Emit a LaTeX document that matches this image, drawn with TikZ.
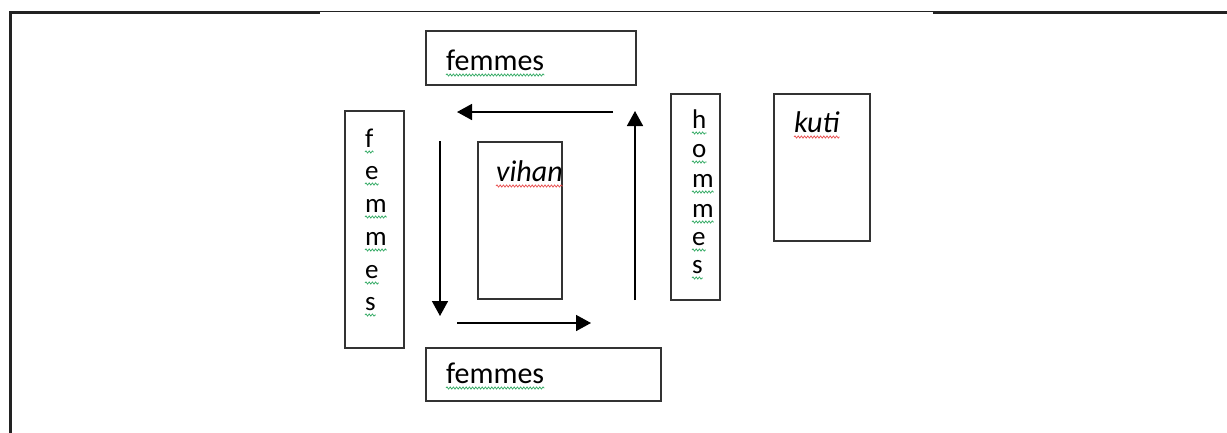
\documentclass[tikz,border=0pt]{standalone}
\usepackage{fontspec}
\setmainfont{Carlito}
\usetikzlibrary{arrows.meta,decorations.pathmorphing}
\definecolor{framec}{HTML}{222222}
\definecolor{boxc}{HTML}{333333}
\definecolor{spellg}{HTML}{2EA860}
\definecolor{spellr}{HTML}{E84A4A}
\tikzset{
  boxnode/.style={draw=boxc, line width=1.3pt, inner sep=0pt, fill=none},
  lbl/.style={inner sep=0pt, anchor=base west, font=\fontsize{30}{36}\selectfont},
  vlbl/.style={inner sep=0pt, anchor=base west, font=\fontsize{27}{32}\selectfont},
  ilbl/.style={inner sep=0pt, anchor=base west, font=\fontsize{30}{36}\selectfont\itshape},
  flow/.style={line width=1.6pt, -{Triangle[length=15pt,width=16pt]}},
  squig/.style={line width=0.7pt, decorate, decoration={snake, amplitude=1.1pt, segment length=3.2pt}},
}
\newcommand{\sq}[2]{\draw[squig,#1] ([yshift=-5pt]#2.base west) -- ([yshift=-5pt]#2.base east);}
\begin{document}
\begin{tikzpicture}[x=1pt,y=-1pt]
\useasboundingbox (0,0) rectangle (1227,432);
% frame
\draw[framec, line width=3pt] (10,433) -- (10,12) -- (320,12);
\draw[framec, line width=1pt] (320,11.5) -- (933,11.5);
\draw[framec, line width=3pt] (933,12) -- (1227,12);
% boxes
\node[boxnode, minimum width=210pt, minimum height=54pt] (topbox) at (531,58) {};
\node[boxnode, minimum width=235pt, minimum height=53pt] (botbox) at (543.5,374.5) {};
\node[boxnode, minimum width=59pt, minimum height=237pt] (leftbox) at (374.5,229.5) {};
\node[boxnode, minimum width=49pt, minimum height=206pt] (hombox) at (695.5,197) {};
\node[boxnode, minimum width=96pt, minimum height=147pt] (kutibox) at (822,167.5) {};
\node[boxnode, minimum width=84pt, minimum height=157pt] (vihanbox) at (520,220.5) {};
% horizontal labels
\node[lbl] (ftop) at (446,70) {femmes};
\node[lbl] (fbot) at (446,383) {femmes};
\node[ilbl] (vihan) at (496,181) {vihan};
\node[ilbl] (kuti) at (794,132) {kuti};
\sq{spellg}{ftop}
\sq{spellg}{fbot}
\sq{spellr}{vihan}
\sq{spellr}{kuti}
% vertical femmes
\foreach \c/\yy [count=\i] in {f/147,e/179,m/212,m/245,e/278,s/310}{
  \node[vlbl] (lf\i) at (365,\yy) {\c};
  \sq{spellg}{lf\i}
}
% vertical hommes
\foreach \c/\yy [count=\i] in {h/128,o/157,m/187,m/217,e/245,s/273}{
  \node[vlbl] (hm\i) at (692,\yy) {\c};
  \sq{spellg}{hm\i}
}
% arrows
\coordinate (a1s) at (613,112); \coordinate (a1e) at (457,112);
\coordinate (a2s) at (635,300); \coordinate (a2e) at (635,111);
\coordinate (a3s) at (440,141); \coordinate (a3e) at (440,316);
\coordinate (a4s) at (457,323); \coordinate (a4e) at (591,323);
\draw[flow] (a1s) -- (a1e);
\draw[flow] (a2s) -- (a2e);
\draw[flow] (a3s) -- (a3e);
\draw[flow] (a4s) -- (a4e);
\end{tikzpicture}
\end{document}
